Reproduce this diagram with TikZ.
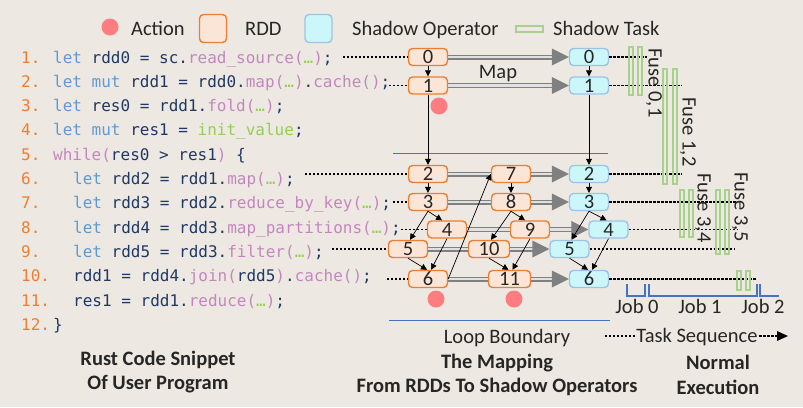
\documentclass[tikz,border=0pt]{standalone}
\usepackage{fontspec}
\setmainfont{Carlito}
\newfontfamily\codefont{DejaVu Sans Mono}
\usetikzlibrary{arrows.meta}
\definecolor{bgc}{RGB}{237,233,226}
\definecolor{txtc}{RGB}{38,38,38}
\definecolor{rddline}{RGB}{237,125,49}
\definecolor{rddfill}{RGB}{251,229,214}
\definecolor{shline}{RGB}{157,195,230}
\definecolor{shfill}{RGB}{204,247,250}
\definecolor{actc}{RGB}{255,124,128}
\definecolor{taskc}{RGB}{169,209,142}
\definecolor{loopc}{RGB}{68,114,196}
\definecolor{kwc}{RGB}{91,155,213}
\definecolor{idc}{RGB}{31,56,100}
\definecolor{fnc}{RGB}{197,134,192}
\definecolor{elc}{RGB}{146,208,80}
\definecolor{numc}{RGB}{237,125,49}
\definecolor{dblc}{RGB}{128,128,128}
\definecolor{dblin}{RGB}{225,225,225}
\newcommand{\ckw}[1]{\textcolor{kwc}{#1}}
\newcommand{\cfn}[1]{\textcolor{fnc}{#1}}
\newcommand{\cel}{\textcolor{elc}{…}}
\tikzset{
 lbl/.style={font=\fontsize{20.5}{24}\selectfont, text=txtc, inner sep=0pt},
 blbl/.style={font=\fontsize{20.5}{24}\selectfont\bfseries, text=txtc, inner sep=0pt, anchor=base},
 rdd/.style={draw=rddline, fill=rddfill, line width=1.4pt, rounded corners=4pt, minimum width=39pt, minimum height=17pt, inner sep=0pt, font=\fontsize{20.5}{24}\selectfont, text=txtc},
 shnode/.style={rdd, draw=shline, fill=shfill},
 act/.style={circle, fill=actc, minimum size=17pt, inner sep=0pt},
 task/.style={draw=taskc, line width=1.1pt},
 arr/.style={draw=black, line width=0.7pt, -{Triangle[length=6pt,width=6pt]}},
 dots/.style={draw=black, line width=1.1pt, dash pattern=on 2.4pt off 1.6pt},
 dbl/.style={draw=dblc, line width=1.3pt, double=dblin, double distance=2.4pt},
 dtip/.style={fill=dblc},
 loopline/.style={draw=loopc, line width=0.9pt},
 jobline/.style={draw=loopc, line width=1.5pt},
 codel/.style={font=\codefont\fontsize{16}{19}\selectfont, text=idc, inner sep=0pt, anchor=base west},
 numl/.style={codel, text=numc},
}
\begin{document}
\begin{tikzpicture}[x=1pt,y=-1pt]
\fill[bgc] (0,0) rectangle (803,407);
\useasboundingbox (0,0) rectangle (803,407);

% legend
\node[act] (legact) at (110,27) {};
\node[lbl, anchor=base west] (tact) at (131,35) {Action};
\node[rdd, minimum width=27pt, minimum height=28pt] (legrdd) at (213,28.5) {};
\node[lbl, anchor=base west] (trdd) at (245,35) {RDD};
\node[shnode, minimum width=27pt, minimum height=28pt] (legsh) at (318.5,28.5) {};
\node[lbl, anchor=base west] (tsh) at (352,35) {Shadow Operator};
\draw[task] (516,26) rectangle (543,32);
\node[lbl, anchor=base west] (ttask) at (553,35) {Shadow Task};

% code
\node[numl] (l1n) at (21,63) {1.};
\node[numl] (l2n) at (21,87.3) {2.};
\node[numl] (l3n) at (21,111.6) {3.};
\node[numl] (l4n) at (21,135.9) {4.};
\node[numl] (l5n) at (21,160.2) {5.};
\node[numl] (l6n) at (21,184.5) {6.};
\node[numl] (l7n) at (21,208.8) {7.};
\node[numl] (l8n) at (21,233.1) {8.};
\node[numl] (l9n) at (21,257.4) {9.};
\node[numl] (l10n) at (21,281.7) {10.};
\node[numl] (l11n) at (21,306) {11.};
\node[numl] (l12n) at (21,330.3) {12.};
\node[codel] (l1) at (53,63) {\ckw{let} rdd0 = sc.\cfn{read\_source(}\cel\cfn{)};};
\node[codel] (l2) at (53,87.3) {\ckw{let mut} rdd1 = rdd0.\cfn{map(}\cel\cfn{)}.\cfn{cache()};};
\node[codel] (l3) at (53,111.6) {\ckw{let} res0 = rdd1.\cfn{fold(}\cel\cfn{)};};
\node[codel] (l4) at (53,135.9) {\ckw{let mut} res1 = \textcolor{elc}{init\_value};};
\node[codel] (l5) at (53,160.2) {\cfn{while(}res0 > res1\cfn{)} \{};
\node[codel] (l6) at (73,184.5) {\ckw{let} rdd2 = rdd1.\cfn{map(}\cel\cfn{)};};
\node[codel] (l7) at (73,208.8) {\ckw{let} rdd3 = rdd2.\cfn{reduce\_by\_key(}\cel\cfn{)};};
\node[codel] (l8) at (73,233.1) {\ckw{let} rdd4 = rdd3.\cfn{map\_partitions(}\cel\cfn{)};};
\node[codel] (l9) at (73,257.4) {\ckw{let} rdd5 = rdd3.\cfn{filter(}\cel\cfn{)};};
\node[codel] (l10) at (73,281.7) {rdd1 = rdd4.\cfn{join(}rdd5\cfn{)}.\cfn{cache()};};
\node[codel] (l11) at (73,306) {res1 = rdd1.\cfn{reduce(}\cel\cfn{)};};
\node[codel] (l12) at (53,330.3) {\}};

% loop boundary
\draw[loopline] (393,153) -- (608,153);
\draw[loopline] (389,320) -- (610,320);

% RDD nodes
\node[rdd] (n0) at (428,57) {0};
\node[rdd] (n1) at (428,85.5) {1};
\node[rdd] (n2) at (428,174) {2};
\node[rdd] (n3) at (428,202) {3};
\node[rdd] (n4) at (447,229.5) {4};
\node[rdd] (n5) at (408,249) {5};
\node[rdd] (n6) at (428,279) {6};
\node[rdd] (n7) at (511,174) {7};
\node[rdd] (n8) at (511,202) {8};
\node[rdd] (n9) at (530,229.5) {9};
\node[rdd, minimum width=41pt] (n10) at (489,249) {10};
\node[rdd, minimum width=42pt] (n11) at (509.5,279) {11};
% shadow nodes
\node[shnode] (s0) at (589,57) {0};
\node[shnode] (s1) at (589,85.5) {1};
\node[shnode] (s2) at (589,174) {2};
\node[shnode] (s3) at (589,202) {3};
\node[shnode] (s4) at (608.5,229.5) {4};
\node[shnode] (s5) at (569.5,249) {5};
\node[shnode] (s6) at (589,279) {6};
% actions
\node[act] (a1) at (439,106) {};
\node[act] (a6) at (436,299) {};
\node[act] (a11) at (514,299) {};

% dotted code links
\coordinate (d1) at (343,57);
\coordinate (d2) at (389,85.5);
\coordinate (d6) at (305,174);
\coordinate (d7) at (393,202);
\coordinate (d8) at (401,229.5);
\coordinate (d9) at (332,249);
\coordinate (d10) at (387,279);
\draw[dots] (d1) -- (n0.west);
\draw[dots] (d2) -- (n1.west);
\draw[dots] (d6) -- (n2.west);
\draw[dots] (d7) -- (n3.west);
\draw[dots] (d8) -- (n4.west);
\draw[dots] (d9) -- (n5.west);
\draw[dots] (d10) -- (n6.west);

% double mapping arrows
\draw[dbl] (n0.east) -- ([xshift=-16pt]s0.west);
\fill[dtip] (s0.west) -- ++(-17,-8.5) -- ++(0,17) -- cycle;
\draw[dbl] (n1.east) -- ([xshift=-16pt]s1.west);
\fill[dtip] (s1.west) -- ++(-17,-8.5) -- ++(0,17) -- cycle;
\draw[dbl] (n2.east) -- (n7.west);
\draw[dbl] (n7.east) -- ([xshift=-16pt]s2.west);
\fill[dtip] (s2.west) -- ++(-17,-8.5) -- ++(0,17) -- cycle;
\draw[dbl] (n3.east) -- (n8.west);
\draw[dbl] (n8.east) -- ([xshift=-16pt]s3.west);
\fill[dtip] (s3.west) -- ++(-17,-8.5) -- ++(0,17) -- cycle;
\draw[dbl] (n4.east) -- (n9.west);
\draw[dbl] (n9.east) -- ([xshift=-16pt]s4.west);
\fill[dtip] (s4.west) -- ++(-17,-8.5) -- ++(0,17) -- cycle;
\draw[dbl] (n5.east) -- (n10.west);
\draw[dbl] (n10.east) -- ([xshift=-16pt]s5.west);
\fill[dtip] (s5.west) -- ++(-17,-8.5) -- ++(0,17) -- cycle;
\draw[dbl] (n6.east) -- (n11.west);
\draw[dbl] (n11.east) -- ([xshift=-16pt]s6.west);
\fill[dtip] (s6.west) -- ++(-17,-8.5) -- ++(0,17) -- cycle;
\node[lbl, anchor=base] (map) at (498,78) {Map};

% dependency arrows
\draw[arr] (n0) -- (n1);
\draw[arr] (n1) -- (n2);
\draw[arr] (n2) -- (n3);
\draw[arr] (n3.south) -- ([xshift=-5pt]n4.north);
\draw[arr] (n3.south) -- ([xshift=2pt]n5.north);
\draw[arr] (n4.south) -- ([xshift=3pt]n6.north);
\draw[arr] (n5.south) -- ([xshift=-1pt]n6.north);
\draw[arr] (n6.east) -- (n7.west);
\draw[arr] (n7) -- (n8);
\draw[arr] (n8.south) -- ([xshift=-5pt]n9.north);
\draw[arr] (n8.south) -- ([xshift=2pt]n10.north);
\draw[arr] (n9.south) -- ([xshift=3pt]n11.north);
\draw[arr] (n10.south) -- ([xshift=-1pt]n11.north);
\draw[arr] (s0) -- (s1);
\draw[arr] (s1) -- (s2);
\draw[arr] (s2) -- (s3);
\draw[arr] (s3.south) -- ([xshift=-2pt]s4.north);
\draw[arr] (s3.south) -- ([xshift=2pt]s5.north);
\draw[arr] (s4.south) -- ([xshift=3pt]s6.north);
\draw[arr] (s5.south) -- ([xshift=-1pt]s6.north);

% normal execution
\coordinate (e0) at (647,57);
\coordinate (e1) at (682,85.5);
\coordinate (e2) at (682,174);
\coordinate (e3) at (736,202);
\coordinate (e4) at (737,229.5);
\coordinate (e5) at (734,249);
\coordinate (e6) at (757,279);
\draw[dots] (s0.east) -- (e0);
\draw[dots] (s1.east) -- (e1);
\draw[dots] (s2.east) -- (e2);
\draw[dots] (s3.east) -- (e3);
\draw[dots] (s4.east) -- (e4);
\draw[dots] (s5.east) -- (e5);
\draw[dots] (s6.east) -- (e6);

\draw[task] (629,47) rectangle (633,95);
\draw[task] (638,47) rectangle (642,95);
\draw[task] (663,69) rectangle (667,184);
\draw[task] (673,69) rectangle (677,184);
\draw[task] (680,190) rectangle (684,237);
\draw[task] (689,190) rectangle (693,237);
\draw[task] (716,190) rectangle (720,254);
\draw[task] (725,190) rectangle (729,254);
\draw[task] (737,271) rectangle (741,290);
\draw[task] (746,271) rectangle (750,290);
\node[lbl, rotate=-90] (f01) at (654,83) {Fuse 0,1};
\node[lbl, rotate=-90] (f12) at (688,132) {Fuse 1,2};
\node[lbl, rotate=-90] (f34) at (703,208) {Fuse 3,4};
\node[lbl, rotate=-90] (f35) at (740,207) {Fuse 3,5};

\draw[jobline] (627,284) -- (627,296) -- (645,296) -- (645,284);
\draw[jobline] (649,284) -- (649,296) -- (757,296) -- (757,284);
\draw[jobline] (760,284) -- (760,296) -- (779,296);
\node[lbl, anchor=base] (j0) at (637,313) {Job 0};
\node[lbl, anchor=base] (j1) at (700,313) {Job 1};
\node[lbl, anchor=base] (j2) at (763,313) {Job 2};

\node[lbl, anchor=base, inner sep=1.5pt] (ts) at (697,342) {Task Sequence};
\coordinate (tsl) at (605,336);
\coordinate (tsr) at (788,336);
\draw[dots] (tsl) -- (tsl -| ts.west);
\draw[dots] (tsr -| ts.east) -- ([xshift=-11pt]tsr);
\fill[black] (tsr) -- ++(-11,-5) -- ++(0,10) -- cycle;

% titles
\node[lbl, anchor=base] (loopb) at (507,343) {Loop Boundary};
\node[blbl] (t1a) at (158,365) {Rust Code Snippet};
\node[blbl] (t1b) at (158,389) {Of User Program};
\node[blbl] (t2a) at (497,368) {The Mapping};
\node[blbl] (t2b) at (497,392) {From RDDs To Shadow Operators};
\node[blbl] (t3a) at (718,369) {Normal};
\node[blbl] (t3b) at (718,394) {Execution};
\end{tikzpicture}
\end{document}
